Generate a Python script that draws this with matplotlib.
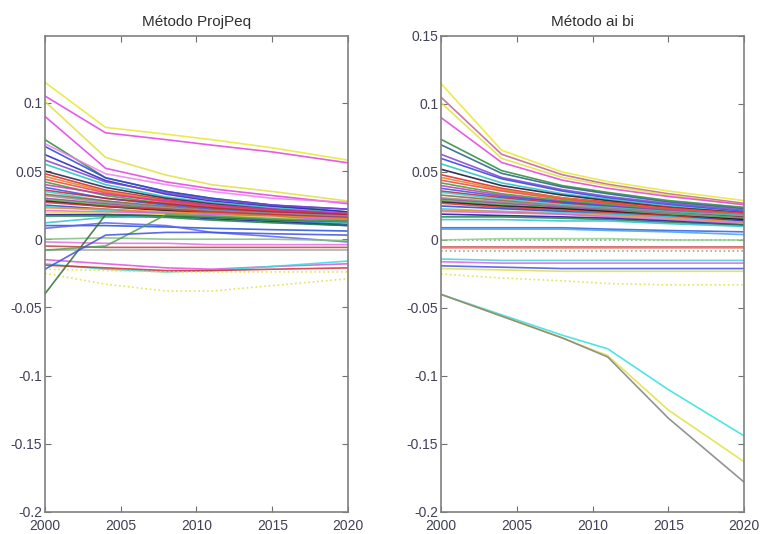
import matplotlib
matplotlib.use("Agg")
import matplotlib.pyplot as plt
import numpy as np

plt.rcParams['font.family'] = ['Liberation Sans', 'DejaVu Sans']

# anos usados como puntos de lectura
anos = [2000, 2004, 2008, 2011, 2015, 2020]

# METODO ProjPeq (panel izquierdo): una fila por linea
proj_series = [
    [0.115, 0.082, 0.077, 0.073, 0.067, 0.058],
    [0.105, 0.078, 0.073, 0.069, 0.064, 0.056],
    [0.101, 0.060, 0.047, 0.040, 0.035, 0.028],
    [0.090, 0.052, 0.042, 0.037, 0.032, 0.026],
    [0.073, 0.045, 0.035, 0.030, 0.025, 0.020],
    [0.070, 0.048, 0.040, 0.035, 0.030, 0.027],
    [0.068, 0.045, 0.035, 0.030, 0.025, 0.022],
    [0.062, 0.043, 0.033, 0.028, 0.024, 0.020],
    [0.058, 0.042, 0.034, 0.029, 0.025, 0.022],
    [0.055, 0.040, 0.031, 0.027, 0.023, 0.019],
    [0.050, 0.038, 0.030, 0.026, 0.022, 0.018],
    [0.048, 0.036, 0.029, 0.025, 0.021, 0.017],
    [0.046, 0.035, 0.028, 0.024, 0.020, 0.016],
    [0.044, 0.034, 0.027, 0.024, 0.021, 0.018],
    [0.042, 0.032, 0.026, 0.023, 0.020, 0.017],
    [0.040, 0.033, 0.028, 0.025, 0.022, 0.019],
    [0.038, 0.030, 0.025, 0.022, 0.019, 0.015],
    [0.036, 0.030, 0.026, 0.023, 0.020, 0.018],
    [0.035, 0.028, 0.023, 0.020, 0.017, 0.014],
    [0.033, 0.028, 0.024, 0.021, 0.018, 0.016],
    [0.032, 0.027, 0.023, 0.021, 0.019, 0.017],
    [0.030, 0.026, 0.022, 0.020, 0.018, 0.016],
    [0.029, 0.025, 0.022, 0.019, 0.017, 0.015],
    [0.028, 0.024, 0.021, 0.019, 0.017, 0.013],
    [0.027, 0.024, 0.022, 0.020, 0.018, 0.015],
    [0.025, 0.022, 0.019, 0.017, 0.014, 0.011],
    [0.024, 0.021, 0.019, 0.018, 0.016, 0.014],
    [0.023, 0.022, 0.020, 0.019, 0.017, 0.015],
    [0.021, 0.020, 0.019, 0.018, 0.016, 0.014],
    [0.020, 0.019, 0.018, 0.017, 0.016, 0.012],
    [0.018, 0.018, 0.017, 0.015, 0.013, 0.010],
    [0.017, 0.017, 0.016, 0.014, 0.012, 0.010],
    [0.012, 0.016, 0.017, 0.016, 0.014, 0.012],
    [0.010, 0.010, 0.009, 0.008, 0.007, 0.006],
    [0.008, 0.012, 0.010, 0.005, 0.002, -0.002],
    [0.000, 0.001, 0.000, 0.000, 0.000, -0.001],
    [-0.002, -0.003, -0.003, -0.004, -0.004, -0.004],
    [-0.005, -0.006, -0.006, -0.006, -0.006, -0.006],
    [-0.008, -0.008, -0.008, -0.008, -0.008, -0.008],
    [-0.015, -0.018, -0.021, -0.022, -0.020, -0.018],
    [-0.018, -0.022, -0.024, -0.023, -0.020, -0.016],
    [-0.019, -0.021, -0.023, -0.023, -0.022, -0.021],
    [-0.022, -0.023, -0.024, -0.024, -0.024, -0.024],
    [-0.025, -0.033, -0.038, -0.038, -0.034, -0.029],
    [-0.040, 0.018, 0.017, 0.016, 0.014, 0.013],
    [-0.008, -0.005, 0.018, 0.017, 0.015, 0.013],
    [-0.022, 0.003, 0.005, 0.005, 0.004, 0.003],
]
proj_colores = [
    "#e8e830", "#e040e0", "#e0e040", "#e040e0", "#2a8a3a", "#f07cf0",
    "#3040e0", "#2020c0", "#8040d0", "#20c0c0", "#202040", "#e02020",
    "#e08020", "#f04040", "#30a030", "#d030b0", "#3050f0", "#c02030",
    "#30d0d0", "#906030", "#909090", "#9040a0", "#50b050", "#101010",
    "#e03030", "#2040d0", "#40d0e0", "#f09030", "#e060e0", "#e0e040",
    "#1010a0", "#208040", "#30c0d0", "#2050e0", "#6060f0", "#80c080",
    "#e070e0", "#c04040", "#a0a0a0", "#e050e0", "#30e0e0", "#d03030",
    "#e0e040", "#e0e040", "#307030", "#50a050", "#4050e0",
]
proj_estilos = ["-"] * 42 + [":", ":", "-", "-", "-"]

# METODO ai bi (panel derecho)
aibi_series = [
    [0.115, 0.066, 0.050, 0.043, 0.036, 0.029],
    [0.105, 0.063, 0.048, 0.041, 0.034, 0.027],
    [0.101, 0.060, 0.046, 0.040, 0.033, 0.026],
    [0.090, 0.057, 0.044, 0.038, 0.032, 0.026],
    [0.074, 0.051, 0.040, 0.035, 0.029, 0.024],
    [0.070, 0.049, 0.039, 0.034, 0.028, 0.023],
    [0.063, 0.046, 0.037, 0.032, 0.027, 0.022],
    [0.060, 0.045, 0.036, 0.031, 0.026, 0.021],
    [0.056, 0.042, 0.034, 0.030, 0.025, 0.020],
    [0.052, 0.040, 0.033, 0.029, 0.024, 0.020],
    [0.048, 0.038, 0.031, 0.028, 0.024, 0.019],
    [0.046, 0.037, 0.031, 0.027, 0.023, 0.019],
    [0.044, 0.036, 0.030, 0.027, 0.023, 0.020],
    [0.042, 0.034, 0.029, 0.026, 0.022, 0.018],
    [0.040, 0.033, 0.028, 0.025, 0.022, 0.018],
    [0.038, 0.032, 0.028, 0.025, 0.021, 0.017],
    [0.036, 0.031, 0.027, 0.024, 0.021, 0.017],
    [0.035, 0.030, 0.026, 0.024, 0.021, 0.018],
    [0.033, 0.029, 0.025, 0.023, 0.020, 0.016],
    [0.031, 0.028, 0.025, 0.023, 0.020, 0.016],
    [0.030, 0.027, 0.024, 0.022, 0.019, 0.015],
    [0.029, 0.026, 0.023, 0.021, 0.019, 0.016],
    [0.028, 0.025, 0.023, 0.021, 0.018, 0.015],
    [0.027, 0.024, 0.022, 0.020, 0.018, 0.014],
    [0.025, 0.023, 0.021, 0.019, 0.017, 0.014],
    [0.023, 0.021, 0.020, 0.019, 0.017, 0.013],
    [0.022, 0.021, 0.019, 0.018, 0.016, 0.013],
    [0.021, 0.020, 0.019, 0.017, 0.015, 0.012],
    [0.019, 0.018, 0.017, 0.016, 0.014, 0.011],
    [0.017, 0.017, 0.016, 0.015, 0.013, 0.011],
    [0.015, 0.015, 0.014, 0.014, 0.012, 0.010],
    [0.009, 0.009, 0.009, 0.008, 0.007, 0.006],
    [0.008, 0.008, 0.008, 0.007, 0.006, 0.004],
    [0.000, 0.000, 0.000, 0.000, 0.000, 0.000],
    [0.000, 0.001, 0.001, 0.001, 0.000, 0.000],
    [-0.005, -0.005, -0.005, -0.005, -0.005, -0.005],
    [-0.006, -0.006, -0.006, -0.006, -0.006, -0.006],
    [-0.008, -0.008, -0.008, -0.008, -0.008, -0.008],
    [-0.014, -0.015, -0.015, -0.015, -0.015, -0.015],
    [-0.016, -0.017, -0.017, -0.017, -0.017, -0.017],
    [-0.019, -0.020, -0.021, -0.021, -0.021, -0.021],
    [-0.021, -0.022, -0.023, -0.023, -0.023, -0.023],
    [-0.025, -0.028, -0.030, -0.032, -0.033, -0.033],
    [-0.040, -0.055, -0.070, -0.080, -0.110, -0.144],
    [-0.040, -0.056, -0.072, -0.085, -0.125, -0.163],
    [-0.040, -0.056, -0.072, -0.086, -0.131, -0.178],
]
aibi_colores = [
    "#e8e830", "#c06090", "#e0e040", "#e040e0", "#2a8a3a", "#206080",
    "#8040d0", "#3040e0", "#20c0c0", "#101030", "#e02020", "#e08020",
    "#f04040", "#30a030", "#d030b0", "#3050f0", "#c02030", "#30d0d0",
    "#906030", "#909090", "#9040a0", "#50b050", "#101010", "#e03030",
    "#2040d0", "#40d0e0", "#f09030", "#e060e0", "#1010a0", "#208040",
    "#30c0d0", "#3060e0", "#40a0f0", "#60a060", "#90d090", "#c04040",
    "#f08080", "#70b070", "#40d0e0", "#e060e0", "#4050f0", "#e0e040",
    "#e0e040", "#30e0e0", "#e0e040", "#808080",
]
aibi_estilos = ["-"] * 33 + [":", "-", "-", "-", ":", "-", "-", "-", "-", ":", "-", "-", "-"]

titulos = ["Método ProjPeq", "Método ai bi"]
yticks_izq = [-0.2, -0.15, -0.1, -0.05, 0, 0.05, 0.1]
yticks_der = [-0.2, -0.15, -0.1, -0.05, 0, 0.05, 0.1, 0.15]
gris = "#404058"

fig = plt.figure(figsize=(7.6, 5.34), dpi=100)
ax1 = fig.add_axes([0.0592, 0.0412, 0.3987, 0.8914])
ax2 = fig.add_axes([0.5803, 0.0412, 0.3987, 0.8914])

paneles = [(ax1, proj_series, proj_colores, proj_estilos, 0.149, yticks_izq),
           (ax2, aibi_series, aibi_colores, aibi_estilos, 0.15, yticks_der)]

for i, (ax, series, colores, estilos, ytop, yt) in enumerate(paneles):
    for s, c, ls in zip(series, colores, estilos):
        ax.plot(anos, s, color=c, ls=ls, lw=1.2, alpha=0.85)
    ax.set_xlim(2000, 2020)
    ax.set_ylim(-0.2, ytop)
    ax.set_xticks([2000, 2005, 2010, 2015, 2020])
    ax.set_yticks(yt)
    ax.set_yticklabels(["%g" % v for v in yt])
    ax.tick_params(direction="in", top=True, right=True, length=4,
                   labelsize=10, colors="#707070", labelcolor=gris)
    ax.tick_params(axis="x", pad=5)
    ax.tick_params(axis="y", pad=2)
    for sp in ax.spines.values():
        sp.set_color("#808080")
        sp.set_linewidth(1.2)
    ax.set_title(titulos[i], fontsize=11, color="#303030", pad=7)

plt.savefig("out.png", dpi=100)
